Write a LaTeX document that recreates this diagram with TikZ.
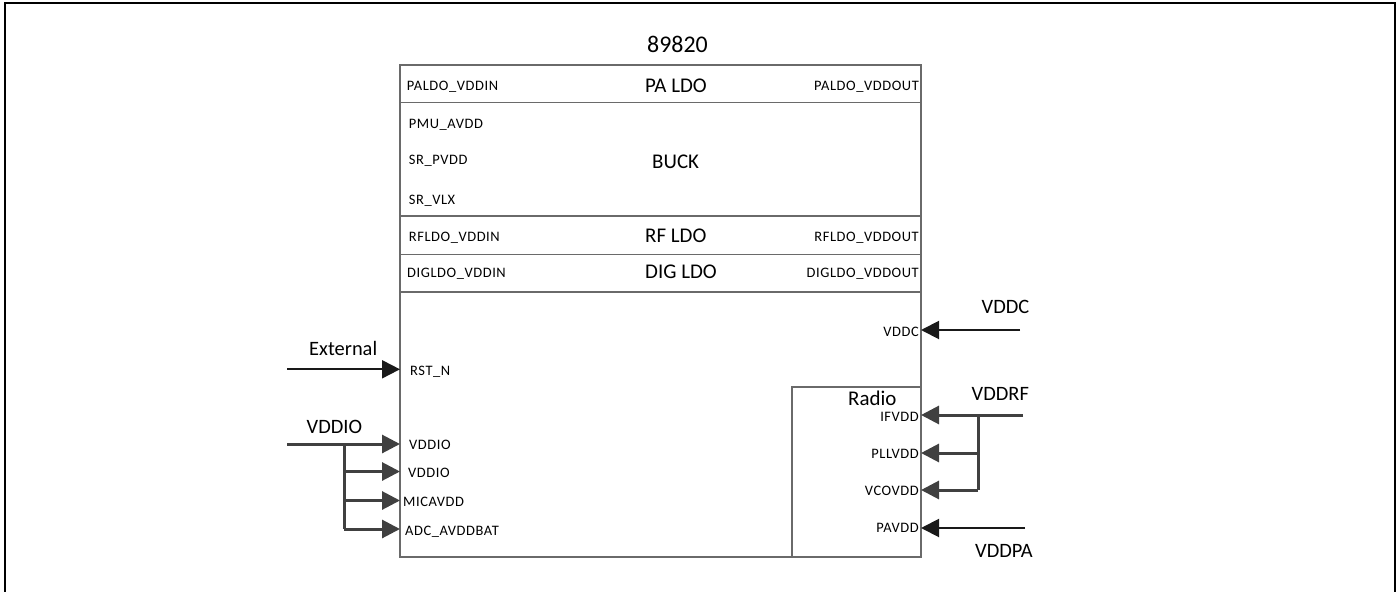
\documentclass[tikz,border=0pt]{standalone}
\usepackage{fontspec}
\setmainfont{Carlito}
\usetikzlibrary{arrows.meta}
\definecolor{boxgray}{HTML}{6A6A6A}
\definecolor{arrgray}{HTML}{404040}
\begin{document}
\begin{tikzpicture}[x=1bp,y=-1bp,
 box/.style={draw=boxgray,line width=1.3bp},
 pin/.style={font=\fontsize{14.5}{15}\selectfont\addfontfeature{LetterSpace=4},inner sep=0pt},
 blk/.style={font=\fontsize{21}{23}\selectfont,inner sep=0pt},
 sig/.style={font=\fontsize{20.5}{22}\selectfont,inner sep=0pt},
 thinfeed/.style={draw=black!90,line width=2bp,-{Triangle[length=18bp,width=18bp]}},
 feed/.style={draw=arrgray,line width=3bp,-{Triangle[length=18bp,width=18bp]}},
 wire/.style={draw=arrgray,line width=3bp},
]
\useasboundingbox (0,0) rectangle (1400,592);
\draw[line width=2.8bp] (5,600) -- (5,3) -- (1395,3) -- (1395,600);

% main block
\draw[box] (400,65) rectangle (921,557);
\draw[box] (400,102.5) -- (921,102.5);
\draw[box] (400,216) -- (921,216);
\draw[box] (400,254.5) -- (921,254.5);
\draw[box] (400,292) -- (921,292);
\draw[box] (792,387) rectangle (921,557);

\node[font=\fontsize{24}{26}\selectfont,inner sep=0pt,anchor=base west] (title) at (647,53) {89820};
\node[blk,anchor=base west] (paldo) at (645,93) {PA LDO};
\node[blk,anchor=base west] (buck) at (652,168.3) {BUCK};
\node[blk,anchor=base west] (rfldo) at (645,242.7) {RF LDO};
\node[blk,anchor=base west] (digldo) at (645,278) {DIG LDO};
\node[blk,anchor=base west] (radio) at (848,405) {Radio};

\node[pin,anchor=base west] (l1) at (406.7,91) {PALDO\_VDDIN};
\node[pin,anchor=base west] (l2) at (408.7,128.5) {PMU\_AVDD};
\node[pin,anchor=base west] (l3) at (408.7,165) {SR\_PVDD};
\node[pin,anchor=base west] (l4) at (408.7,204.5) {SR\_VLX};
\node[pin,anchor=base west] (l5) at (408.7,241.5) {RFLDO\_VDDIN};
\node[pin,anchor=base west] (l6) at (407,277.5) {DIGLDO\_VDDIN};
\node[pin,anchor=base east] (r1) at (919,91) {PALDO\_VDDOUT};
\node[pin,anchor=base east] (r5) at (919,241.5) {RFLDO\_VDDOUT};
\node[pin,anchor=base east] (r6) at (919,277.5) {DIGLDO\_VDDOUT};

% left pins
\node[pin,anchor=base west] (rst) at (410,375) {RST\_N};
\node[pin,anchor=base west] (io1) at (409,449) {VDDIO};
\node[pin,anchor=base west] (io2) at (408,477) {VDDIO};
\node[pin,anchor=base west] (mic) at (403,506) {MICAVDD};
\node[pin,anchor=base west] (adc) at (405,535) {ADC\_AVDDBAT};

% right pins
\node[pin,anchor=base east] (vddcpin) at (919,336) {VDDC};
\node[pin,anchor=base east] (ifvdd) at (919,421.5) {IFVDD};
\node[pin,anchor=base east] (pllvdd) at (919,458.5) {PLLVDD};
\node[pin,anchor=base east] (vcovdd) at (919,495) {VCOVDD};
\node[pin,anchor=base east] (pavdd) at (919,532.5) {PAVDD};

% external signal labels
\node[sig,anchor=base west] (extlbl) at (309,355) {External};
\node[sig,anchor=base west] (vddiolbl) at (306.5,433) {VDDIO};
\node[sig,anchor=base west] (vddclbl) at (981.5,313) {VDDC};
\node[sig,anchor=base west] (vddrflbl) at (971.5,400) {VDDRF};
\node[sig,anchor=base west] (vddpalbl) at (975,557) {VDDPA};

% coordinates
\coordinate (extsrc) at (287,369.3);
\coordinate (rstin) at (400,369.3);
\coordinate (iosrc) at (287,444);
\coordinate (io1in) at (400,444);
\coordinate (io2in) at (400,471.5);
\coordinate (micin) at (400,500.5);
\coordinate (adcin) at (400,529);
\coordinate (iob1) at (344,444);
\coordinate (iob2) at (344,471.5);
\coordinate (iob3) at (344,500.5);
\coordinate (iob4) at (344,529);

\coordinate (vddcsrc) at (1020,330);
\coordinate (vddcin) at (921,330);
\coordinate (rfsrc) at (1023,415);
\coordinate (ifin) at (921,415);
\coordinate (pllin) at (921,453);
\coordinate (vcoin) at (921,490);
\coordinate (rfb1) at (978,415);
\coordinate (rfb2) at (978,453);
\coordinate (rfb3) at (978,490);
\coordinate (pasrc) at (1025,528);
\coordinate (pain) at (921,528);

\draw[thinfeed] (extsrc) -- (rstin);
\draw[feed] (iosrc) -- (io1in);
\draw[wire] (iob1) -- (iob4);
\draw[feed] (iob2) -- (io2in);
\draw[feed] (iob3) -- (micin);
\draw[feed] (iob4) -- (adcin);

\draw[thinfeed] (vddcsrc) -- (vddcin);
\draw[feed] (rfsrc) -- (ifin);
\draw[wire] (rfb1) -- (rfb3);
\draw[feed] (rfb2) -- (pllin);
\draw[feed] (rfb3) -- (vcoin);
\draw[thinfeed] (pasrc) -- (pain);
\end{tikzpicture}
\end{document}
